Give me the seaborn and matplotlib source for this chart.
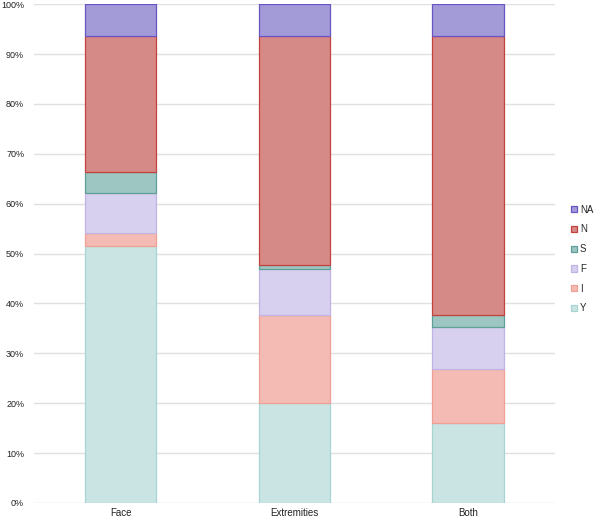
import seaborn as sns
import numpy as np
import pandas as pd
import matplotlib
matplotlib.use("Agg")
import matplotlib.pyplot as plt
from matplotlib.patches import Patch

# data (percent of each group)
groups = ["Face", "Extremities", "Both"]
Y = [51.5, 20.1, 16.1]
I = [2.6, 17.5, 10.7]
F = [8.1, 9.3, 8.5]
S = [4.1, 0.9, 2.4]
N = [27.3, 45.8, 56.0]
NA = [6.4, 6.4, 6.3]

labels = ["Y", "I", "F", "S", "N", "NA"]
fills = ["#c9e4e3", "#f4bab4", "#d8d0ef", "#9dc6c3", "#d68a88", "#a39bd8"]
edges = ["#a8d5d2", "#eea095", "#c0b4e6", "#5f9f9a", "#c4423c", "#6b54c4"]

sns.set_style("white")
plt.rcParams["font.family"] = ["Liberation Sans", "DejaVu Sans"]

fig = plt.figure(figsize=(5.96, 5.19), dpi=100)
ax = fig.add_axes([0.057, 0.031, 0.874, 0.961])

series = [Y, I, F, S, N, NA]
bottoms = np.zeros(len(groups))

# stacked bars: draw each segment, then move it up onto the previous ones
for k in range(len(labels)):
    df = pd.DataFrame({"group": groups, "value": series[k]})
    n_before = len(ax.patches)
    sns.barplot(data=df, x="group", y="value", ax=ax, color=fills[k],
                edgecolor=edges[k], linewidth=0.9, width=0.41,
                saturation=1, zorder=3)
    for j, p in enumerate(ax.patches[n_before:]):
        p.set_y(bottoms[j])
    bottoms = bottoms + np.array(series[k])

ax.set_ylim(0, 100)
ax.set_yticks(np.arange(0, 101, 10))
ax.set_yticklabels(["%d%%" % v for v in range(0, 101, 10)])
ax.yaxis.grid(True, color="#e0e0e0", linewidth=1.0, zorder=0)
ax.set_axisbelow(True)
ax.set_xlabel("")
ax.set_ylabel("")
for s in ax.spines.values():
    s.set_visible(False)
ax.tick_params(axis="y", length=0, pad=7, labelsize=6.5, colors="#222222")
ax.tick_params(axis="x", length=0, pad=4, labelsize=7, colors="#222222")

handles = [Patch(facecolor=fills[k], edgecolor=edges[k], linewidth=0.9, label=labels[k])
           for k in range(len(labels) - 1, -1, -1)]
leg = fig.legend(handles=handles, loc="center left", bbox_to_anchor=(0.95, 0.501),
                 frameon=False, fontsize=7, handlelength=0.6, handleheight=0.6,
                 handletextpad=0.3, labelspacing=1.0, borderpad=0)

fig.savefig("out.png", dpi=100)
